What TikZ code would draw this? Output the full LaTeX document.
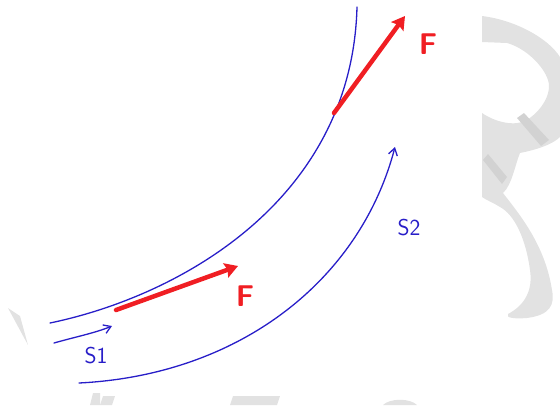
\documentclass[tikz,border=0pt]{standalone}
\usepackage{tikz}
\usetikzlibrary{arrows.meta}
\definecolor{pen}{RGB}{40,30,200}
\definecolor{ink}{RGB}{240,30,35}
\definecolor{wmark}{RGB}{226,226,226}
\definecolor{wmarkdk}{RGB}{210,210,210}

\begin{document}
\begin{tikzpicture}[x=1pt,y=-1pt,line width=1.2pt,line cap=round,
  curve/.style={pen,line width=1.3pt},
  force/.style={ink,line width=4.5pt,-{Stealth[length=13pt,width=15pt,inset=2pt]}},
  flabel/.style={ink,font=\fontsize{30}{30}\sffamily\bfseries},
  slabel/.style={pen,font=\fontsize{23}{23}\sffamily}]
  \useasboundingbox (0,0) rectangle (560,405);
  % marca de agua
  \fill[wmark] (482,16) .. controls (515,20) and (548,38) .. (560,57) -- (560,137)
    .. controls (552,145) and (535,150) .. (520,153) .. controls (515,165) and (512,185) .. (503,193)
    .. controls (520,215) and (545,245) .. (552,290) .. controls (555,305) and (550,315) .. (527,318)
    .. controls (515,319) and (505,318) .. (508,314) .. controls (525,305) and (533,290) .. (530,270)
    .. controls (526,240) and (515,215) .. (500,207) .. controls (492,202) and (486,200) .. (482,197)
    -- (482,113) .. controls (495,122) and (515,127) .. (527,120) .. controls (545,108) and (552,90) .. (548,80)
    .. controls (543,65) and (525,48) .. (507,43) -- (482,42) -- cycle;
  \fill[wmarkdk] (517,118) -- (524,113) -- (549,140) -- (541,146) -- cycle;
  \fill[wmarkdk] (483,160) -- (488,154) -- (507,177) -- (502,184) -- cycle;
  \fill[wmark] (8,308) -- (20,316) -- (28,345) -- cycle;
  \fill[wmark] (90,405) -- (93,393) -- (100,393) -- (100,405) -- cycle;
  \fill[wmark] (100,405) -- (103,396) -- (115,396) -- (112,405) -- cycle;
  \fill[wmark] (230,405) -- (233,396) -- (280,396) -- (277,405) -- cycle;
  \fill[wmark] (383,405) .. controls (390,398) and (410,398) .. (417,405) -- cycle;
  % curvas
  \draw[curve] (50,323) .. controls (180,296) and (352,200) .. (357,7);
  \draw[curve,-{Straight Barb[length=7pt,width=9pt]}] (79,383) .. controls (240,375) and (360,280) .. (395,147);
  \draw[curve,-{Straight Barb[length=7pt,width=9pt]}] (54,343) .. controls (75,337) and (95,333) .. (112,326);
  % fuerzas
  \coordinate (p1) at (116,310);
  \coordinate (q1) at (238,266);
  \coordinate (p2) at (334,113);
  \coordinate (q2) at (405,16);
  \draw[force] (p1) -- (q1);
  \draw[force] (p2) -- (q2);
  \node[flabel] (f1) at (245,296) {F};
  \node[flabel] (f2) at (428,44) {F};
  \node[slabel] (s1) at (96,356) {S1};
  \node[slabel] (s2) at (409,228) {S2};
\end{tikzpicture}
\end{document}
